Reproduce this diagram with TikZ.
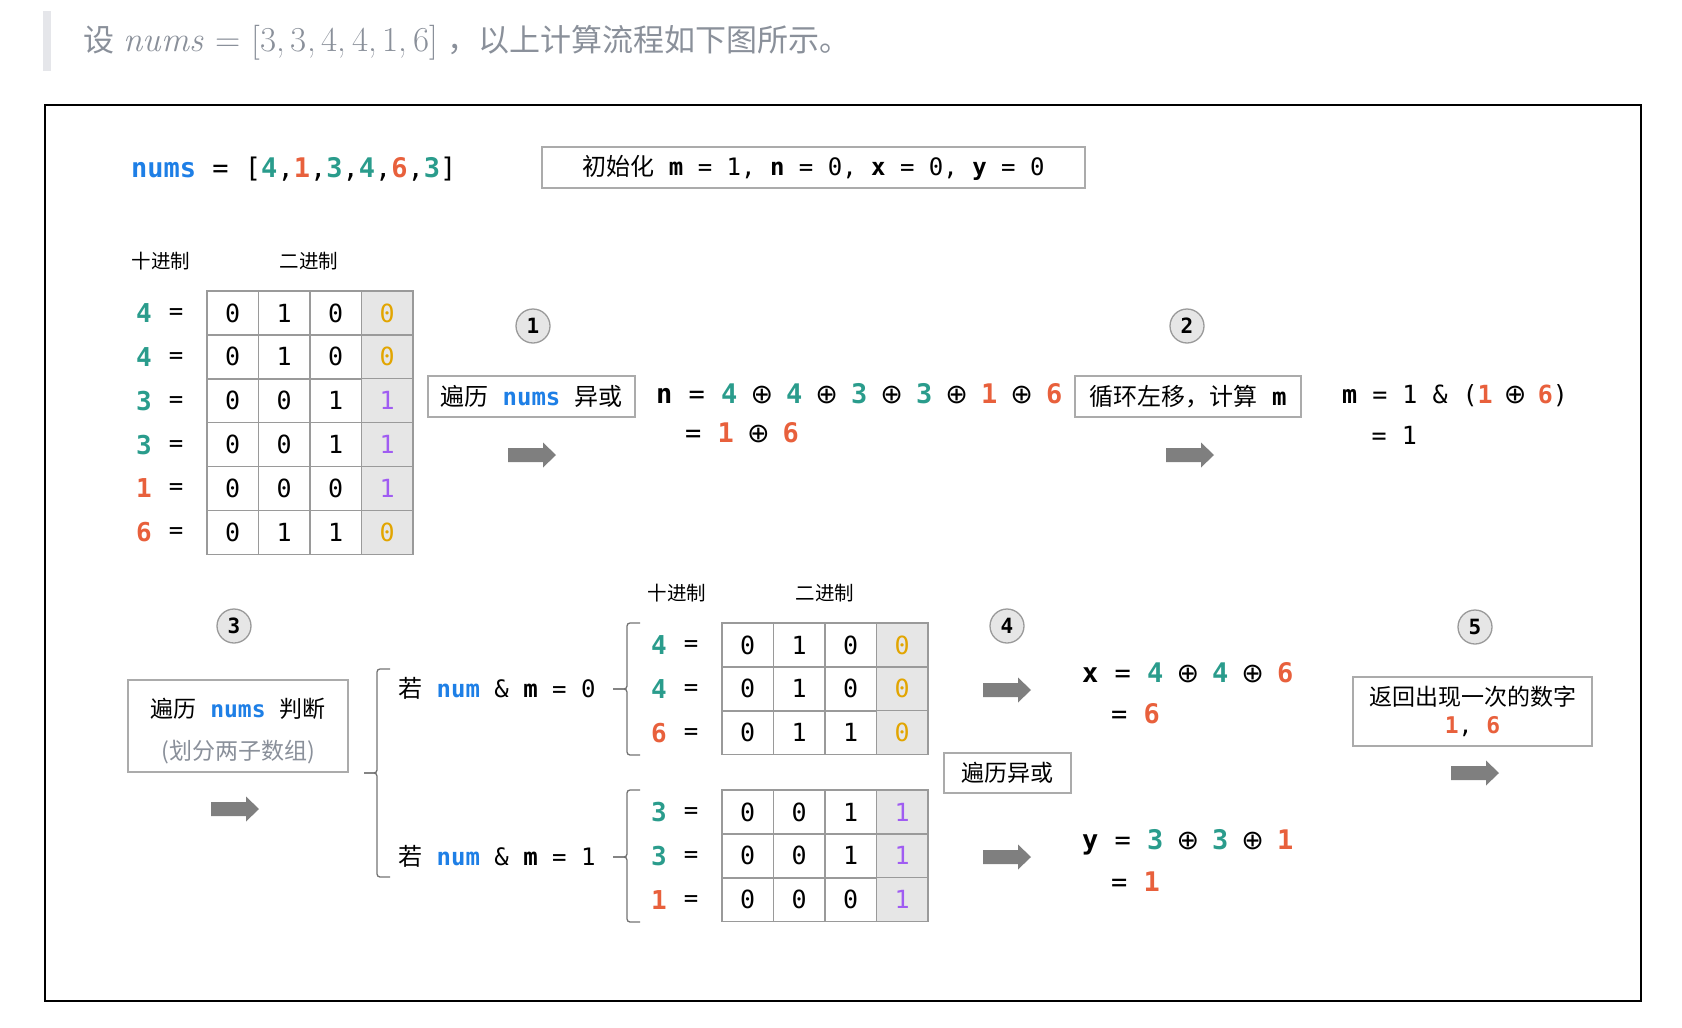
\documentclass[tikz,border=0pt]{standalone}
\usepackage{fontspec}
\setmonofont{DejaVu Sans Mono}
\newfontfamily\cjk{Noto Sans CJK SC}
\newfontfamily\symb{DejaVu Sans}
\usepackage{xcolor}
\usetikzlibrary{positioning,calc}

\definecolor{numblue}{HTML}{1E7FE6}
\definecolor{numteal}{HTML}{2A9C8C}
\definecolor{numred}{HTML}{E8603C}
\definecolor{bityellow}{HTML}{E2A500}
\definecolor{bitpurple}{HTML}{A05CF2}
\definecolor{cellgray}{HTML}{E6E6E6}
\definecolor{linegray}{HTML}{9A9A9A}
\definecolor{boxgray}{HTML}{ABABAB}
\definecolor{arrowgray}{HTML}{7F7F7F}
\definecolor{headgray}{HTML}{8A909A}
\definecolor{bargray}{HTML}{E5E6EA}

\newcommand\bnum[1]{\textcolor{numblue}{\bfseries #1}}
\newcommand\tnum[1]{\textcolor{numteal}{\bfseries #1}}
\newcommand\rnum[1]{\textcolor{numred}{\bfseries #1}}
\newcommand\xor{\makebox[0.6em]{\symb\fontsize{27}{27}\selectfont ⊕}}
\newcommand\codesize{\fontsize{24}{28}\selectfont\ttfamily}

\tikzset{
  txt/.style={inner sep=0pt, anchor=west, text depth=0pt},
  bigcode/.style={txt, text height=19.7pt, font=\fontsize{27}{30}\selectfont\ttfamily},
  midcode/.style={txt, text height=18.2pt, font=\fontsize{25}{28}\selectfont\ttfamily},
  code/.style={txt, text height=17.5pt, font=\codesize},
  box/.style={draw=boxgray, line width=1.3pt, fill=white, inner sep=0pt},
  cell/.style={draw=linegray, line width=1.4pt, minimum width=51.5pt, minimum height=44pt,
    inner sep=0pt, font=\fontsize{25}{28}\selectfont\ttfamily},
  decnum/.style={font=\fontsize{26}{28}\selectfont\ttfamily\bfseries, inner sep=0pt},
  eqsign/.style={font=\codesize, inner sep=0pt, yshift=-1pt},
  headlbl/.style={font=\fontsize{19.5}{22}\selectfont\cjk, inner sep=0pt},
  stepnum/.style={circle, draw=linegray, fill=cellgray, line width=1.3pt, minimum size=34pt,
    inner sep=0pt, font=\fontsize{21}{21}\selectfont\ttfamily\bfseries},
  grp/.style={draw=black!55, line width=1.3pt, rounded corners=3pt},
  fatarrow/.pic={\fill[arrowgray] (-24,-7) -- (11,-7) -- (11,-12.5) -- (24,0)
    -- (11,12.5) -- (11,7) -- (-24,7) -- cycle;}
}

% one table: name, left x, top y, rows
\newcommand\bintable[4]{%
  \foreach \dv/\dc/\ba/\bb/\bc/\bd/\bdc [count=\r from 0] in {#4} {
    \node[decnum, text=\dc] (#1-d\r) at (#2-63,#3+22+43.85*\r) {\dv};
    \node[eqsign] (#1-q\r) at (#2-31,#3+22+43.85*\r) {=};
    \node[cell] (#1-\r-a) at (#2+25.75,#3+22+43.85*\r) {\ba};
    \node[cell] (#1-\r-b) at (#2+77.25,#3+22+43.85*\r) {\bb};
    \node[cell] (#1-\r-c) at (#2+128.75,#3+22+43.85*\r) {\bc};
    \node[cell, fill=cellgray, text=\bdc] (#1-\r-d) at (#2+180.25,#3+22+43.85*\r) {\bd};
  }}

\begin{document}
\begin{tikzpicture}[x=1pt,y=-1pt]
  \useasboundingbox (0,0) rectangle (1682,1028);

  % Header line
  \fill[bargray] (43,11) rectangle (51,71);
  \node[anchor=west, inner sep=0pt, text=headgray, font=\fontsize{31}{36}\selectfont] (head) at (83,43)
    {{\cjk 设} {\fontsize{35}{38}\selectfont\itshape nums\/ \upshape= [3,\,3,\,4,\,4,\,1,\,6]}
     {\cjk ，以上计算流程如下图所示。}};

  % Frame
  \draw[line width=2pt] (45,105) rectangle (1641,1001);

  % Input and init
  \node[bigcode] (nums) at (131,168)
    {\bnum{nums} = [\tnum{4},\rnum{1},\tnum{3},\tnum{4},\rnum{6},\tnum{3}]};
  \node[box, minimum width=543pt, minimum height=41pt, font=\codesize] (init) at (813.5,167.5)
    {{\cjk 初始化} \textbf{m} = 1, \textbf{n} = 0, \textbf{x} = 0, \textbf{y} = 0};

  % Table of all numbers
  \node[headlbl] (dec1) at (161,261) {十进制};
  \node[headlbl] (bin1) at (309,261) {二进制};
  \bintable{ta}{207}{291}{4/numteal/0/1/0/0/bityellow, 4/numteal/0/1/0/0/bityellow,
    3/numteal/0/0/1/1/bitpurple, 3/numteal/0/0/1/1/bitpurple,
    1/numred/0/0/0/1/bitpurple, 6/numred/0/1/1/0/bityellow}

  % Step 1
  \node[stepnum] (s1) at (533,326) {1};
  \node[box, minimum width=207pt, minimum height=41pt, font=\codesize] (xorall) at (531.5,396.5)
    {{\cjk 遍历} \bnum{nums} {\cjk 异或}};
  \pic (a1) at (532,455) {fatarrow};
  \node[bigcode] (nline) at (656,394)
    {\textbf{n} = \tnum{4} \xor{} \tnum{4} \xor{} \tnum{3} \xor{} \tnum{3} \xor{} \rnum{1} \xor{} \rnum{6}};
  \node[bigcode] (nres) at (685,433) {= \rnum{1} \xor{} \rnum{6}};

  % Step 2
  \node[stepnum] (s2) at (1187,326) {2};
  \node[box, minimum width=226pt, minimum height=41pt, font=\codesize] (shift) at (1188,396.5)
    {{\cjk 循环左移，计算} \textbf{m}};
  \pic (a2) at (1190,455) {fatarrow};
  \node[midcode] (mline) at (1342,394) {\textbf{m} = 1 \& (\rnum{1} \xor{} \rnum{6})};
  \node[midcode] (mres) at (1371.5,435) {= 1};

  % Step 3
  \node[stepnum] (s3) at (234,626) {3};
  \node[box, minimum width=220pt, minimum height=92pt] (split) at (238,726) {};
  \node[align=center, inner sep=0pt, font=\fontsize{23}{42}\selectfont\ttfamily] (splittxt)
    at ([yshift=-5pt]split.center)
    {{\cjk 遍历} \bnum{nums} {\cjk 判断}\\{\color{headgray}\cjk (划分两子数组)}};
  \pic (a3) at (235,809) {fatarrow};
  \draw[grp] (390,669) -- (377,669) -- (377,773) -- (364,773);
  \draw[grp] (364,773) -- (377,773) -- (377,877) -- (390,877);
  \node[code] (cond0) at (398,689) {{\cjk 若} \bnum{num} \& \textbf{m} = 0};
  \node[code] (cond1) at (398,857) {{\cjk 若} \bnum{num} \& \textbf{m} = 1};
  \draw[grp] (640,623) -- (627,623) -- (627,689) -- (613,689);
  \draw[grp] (613,689) -- (627,689) -- (627,755) -- (640,755);
  \draw[grp] (640,790) -- (627,790) -- (627,857) -- (613,857);
  \draw[grp] (613,857) -- (627,857) -- (627,922) -- (640,922);

  % Two groups
  \node[headlbl] (dec2) at (677,593) {十进制};
  \node[headlbl] (bin2) at (825,593) {二进制};
  \bintable{tb}{722}{623}{4/numteal/0/1/0/0/bityellow, 4/numteal/0/1/0/0/bityellow,
    6/numred/0/1/1/0/bityellow}
  \bintable{tc}{722}{790}{3/numteal/0/0/1/1/bitpurple, 3/numteal/0/0/1/1/bitpurple,
    1/numred/0/0/0/1/bitpurple}

  % Step 4
  \node[stepnum] (s4) at (1007,626) {4};
  \pic (a4) at (1007,690) {fatarrow};
  \node[box, minimum width=127pt, minimum height=40pt, font=\fontsize{23}{28}\selectfont\cjk] (xorgrp) at (1007.5,773)
    {遍历异或};
  \pic (a5) at (1007,857) {fatarrow};
  \node[bigcode] (xline) at (1082,673) {\textbf{x} = \tnum{4} \xor{} \tnum{4} \xor{} \rnum{6}};
  \node[bigcode] (xres) at (1111,714) {= \rnum{6}};
  \node[bigcode] (yline) at (1082,840) {\textbf{y} = \tnum{3} \xor{} \tnum{3} \xor{} \rnum{1}};
  \node[bigcode] (yres) at (1111,882) {= \rnum{1}};

  % Step 5
  \node[stepnum] (s5) at (1475,627) {5};
  \node[box, minimum width=239pt, minimum height=69pt, align=center,
    font=\fontsize{23}{28}\selectfont\ttfamily] (answer) at (1472.5,711.5)
    {{\cjk 返回出现一次的数字}\\\rnum{1}, \rnum{6}};
  \pic (a6) at (1475,773) {fatarrow};
\end{tikzpicture}
\end{document}
